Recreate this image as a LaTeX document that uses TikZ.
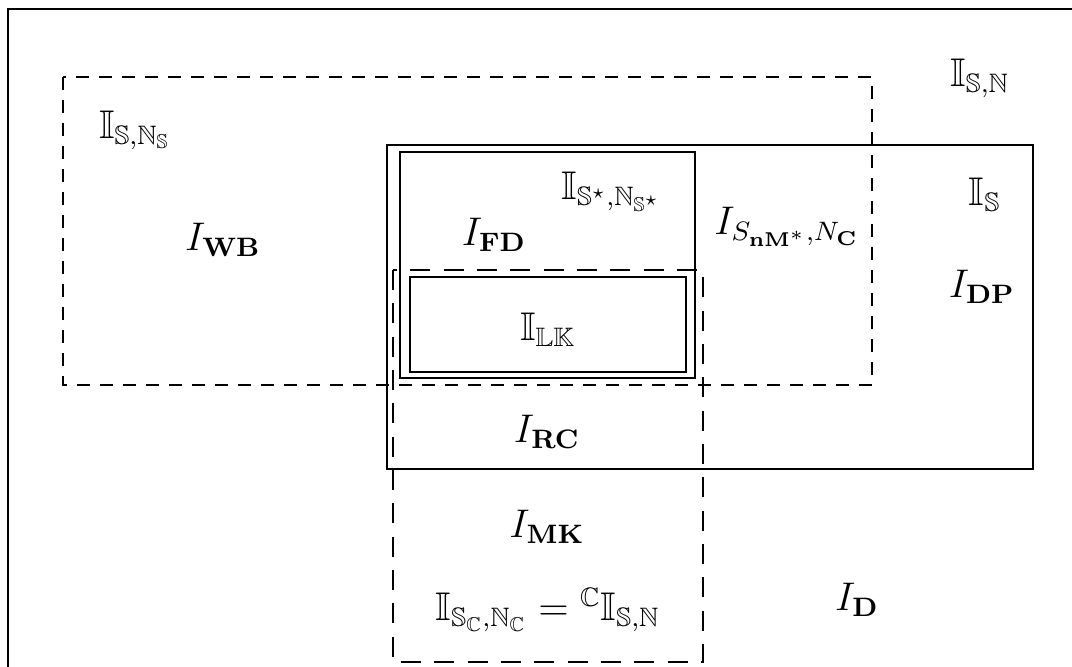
\documentclass[tikz,border=0pt]{standalone}
\usepackage{amsmath,amssymb}
\newcommand{\ds}[1]{\mathbb{#1}}
\tikzset{
  frame/.style={line width=0.75pt},
  solidbox/.style={line width=0.55pt},
  wbdash/.style={line width=0.55pt, dash pattern=on 3.9pt off 3pt},
  mkdash/.style={line width=0.55pt, dash pattern=on 6pt off 4pt},
  lbl/.style={inner sep=0pt, font=\fontsize{12}{14}\selectfont}
}
\begin{document}
\begin{tikzpicture}[x=0.3pt,y=-0.3pt]
\useasboundingbox (0,0) rectangle (1072,666);
\clip (0,0) rectangle (1072,666);
% outer frame (cut at right and bottom)
\draw[frame] (8,700) -- (8,9) -- (1100,9);
% dashed WB region
\draw[wbdash] (63,77) rectangle (872,385);
% solid S region
\draw[solidbox] (387,145) rectangle (1033,469);
% FD region and LK region (double lines)
\draw[solidbox] (400,152) rectangle (695,378);
\draw[solidbox] (410,277) rectangle (686,372);
% dashed MK region
\draw[mkdash] (393,270) rectangle (703,662);
% labels
\node[lbl] (ISN)   at (980,78)  {$\ds{I}_{\ds{S},\ds{N}}$};
\node[lbl] (ISNS)  at (135,130) {$\ds{I}_{\ds{S},\ds{N}_{\ds{S}}}$};
\node[lbl] (IWB)   at (223,240) {$I_{\mathbf{WB}}$};
\node[lbl] (ISstar) at (612,192) {$\ds{I}_{\ds{S}^{\star},\ds{N}_{\ds{S}^{\star}}}$};
\node[lbl] (IFD)   at (494,235) {$I_{\mathbf{FD}}$};
\node[lbl] (ISnM)  at (787,227) {$I_{S_{\mathbf{nM}^{*}},N_{\mathbf{C}}}$};
\node[lbl] (IS)    at (985,195) {$\ds{I}_{\ds{S}}$};
\node[lbl] (IDP)   at (982,287) {$I_{\mathbf{DP}}$};
\node[lbl] (ILK)   at (548,330) {$\ds{I}_{\ds{L}\ds{K}}$};
\node[lbl] (IRC)   at (547,432) {$I_{\mathbf{RC}}$};
\node[lbl] (IMK)   at (547,527) {$I_{\mathbf{MK}}$};
\node[lbl] (ISC)   at (548,610) {$\ds{I}_{\ds{S}_{\ds{C}},\ds{N}_{\ds{C}}}={}^{\ds{C}}\ds{I}_{\ds{S},\ds{N}}$};
\node[lbl] (ID)    at (857,600) {$I_{\mathbf{D}}$};
\end{tikzpicture}
\end{document}
